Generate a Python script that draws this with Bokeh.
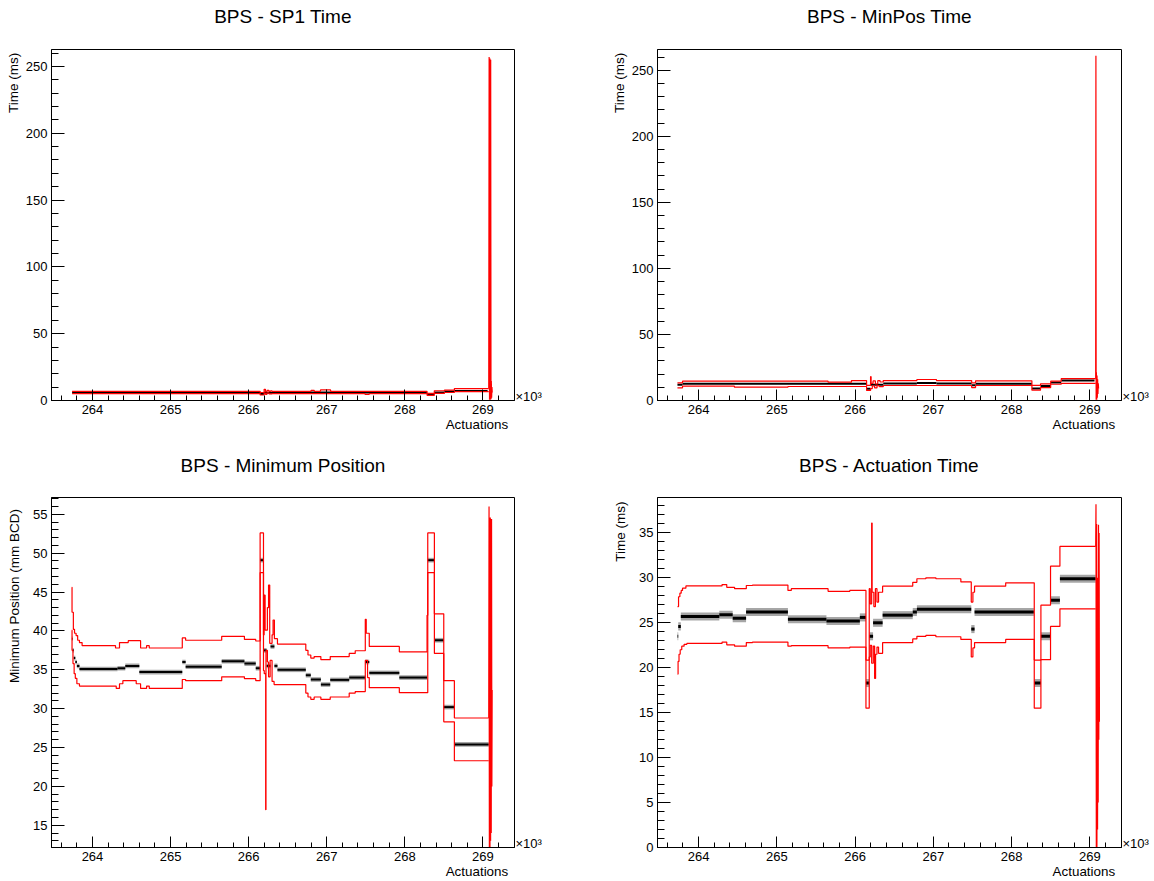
import json
from bokeh.plotting import figure
from bokeh.models import (Range1d, SingleIntervalTicker, FixedTicker, LinearAxis,
                          CustomJSTickFormatter)
from bokeh.layouts import gridplot
from bokeh.embed import file_html
from bokeh.resources import INLINE

FONT = "Liberation Sans"

# x values are actuations in units of 10^3
X_RANGE = (263.475, 269.405)

# ---------------- BPS - SP1 Time ----------------
sp1_up_x = [263.739, 266.147, 266.198, 266.215, 266.235, 266.260, 266.280, 266.300, 266.800, 266.840, 266.920, 267.050, 268.285, 268.378, 268.507, 268.635, 269.075]
sp1_up_y = [6.9, 6.0, 8.4, 6.6, 7.6, 6.8, 7.2, 6.9, 7.6, 6.9, 7.9, 6.9, 5.4, 7.3, 7.7, 8.9, 8.9]
sp1_lo_x = [263.739, 266.147, 266.198, 266.215, 266.235, 266.260, 266.300, 267.490, 267.545, 268.285, 268.378, 268.507, 268.635, 269.075]
sp1_lo_y = [5.2, 4.1, 5.6, 4.6, 5.8, 5.0, 5.2, 4.6, 5.2, 3.9, 5.3, 6.0, 6.6, 6.6]
sp1_pt_x0 = [263.739, 266.147, 266.198, 266.350, 268.285, 268.378, 268.507, 268.635]
sp1_pt_x1 = [266.147, 266.198, 266.350, 268.285, 268.378, 268.507, 268.635, 269.060]
sp1_pt_y = [6.0, 4.8, 5.8, 6.0, 4.6, 5.9, 6.7, 7.2]
sp1_spk_x = [269.075, 269.080, 269.085, 269.090, 269.095, 269.100, 269.104, 269.108, 269.112, 269.116, 269.120]
sp1_spk_y = [8.9, 257.0, 0.5, 256.0, 0.5, 255.0, 1.0, 14.6, 2.0, 10.0, 6.0]

# ---------------- BPS - MinPos Time ----------------
mp_up_x = [263.730, 263.795, 265.655, 265.954, 266.147, 266.198, 266.205, 266.230, 266.260, 266.290, 266.320, 266.360, 266.790, 267.040, 267.490, 267.540, 268.260, 268.370, 268.500, 268.635, 269.075]
mp_up_y = [13.3, 14.6, 13.9, 15.1, 11.4, 18.0, 13.0, 14.8, 12.5, 15.0, 14.0, 15.1, 15.9, 15.1, 13.4, 14.9, 11.4, 12.6, 14.6, 16.6, 16.6]
mp_lo_x = [263.730, 263.795, 264.458, 265.142, 266.147, 266.198, 266.220, 266.250, 266.280, 266.310, 266.360, 267.490, 267.540, 268.260, 268.370, 268.500, 268.635, 269.075]
mp_lo_y = [9.6, 10.85, 10.1, 10.6, 7.6, 9.0, 11.0, 9.5, 11.2, 10.5, 11.35, 9.8, 11.35, 7.8, 9.8, 12.3, 13.0, 13.0]
mp_pt_x0 = [263.730, 263.795, 266.147, 266.198, 266.360, 266.790, 267.040, 267.490, 267.540, 268.260, 268.370, 268.500, 268.635]
mp_pt_x1 = [263.795, 266.147, 266.198, 266.360, 266.790, 267.040, 267.490, 267.540, 268.260, 268.370, 268.500, 268.635, 269.060]
mp_pt_y = [12.0, 12.6, 8.8, 12.0, 12.8, 13.2, 12.8, 11.5, 12.6, 9.0, 11.0, 13.6, 15.1]
mp_spk_x = [269.075, 269.078, 269.081, 269.084, 269.088, 269.092, 269.096, 269.100, 269.104, 269.108, 269.112]
mp_spk_y = [16.6, 261.0, 0.5, 21.4, 0.5, 19.0, 2.0, 16.0, 5.0, 13.0, 9.0]

# ---------------- BPS - Minimum Position ----------------
pos_up_x = [263.735, 263.738, 263.755, 263.770, 263.790, 263.810, 263.833, 263.867, 264.295, 264.346, 264.458, 264.616, 264.693, 264.727,
            265.150, 265.193, 265.655, 265.946, 266.091, 266.147, 266.190, 266.198, 266.211, 266.240, 266.255, 266.270, 266.300, 266.313,
            266.330, 266.369, 266.732, 266.760, 266.796, 266.839, 266.925, 267.045, 267.288, 267.365, 267.494, 267.506, 267.545, 267.930,
            268.285, 268.294, 268.379, 268.499, 268.635, 269.075]
pos_up_y = [45.6, 42.4, 40.2, 39.7, 39.4, 38.8, 38.5, 38.1, 37.8, 38.5, 38.75, 37.8, 38.1, 37.8,
            39.1, 38.8, 39.3, 38.9, 38.7, 52.6, 39.5, 44.6, 40.1, 43.0, 45.9, 38.4, 39.5, 41.4,
            39.0, 38.3, 37.5, 36.9, 36.5, 36.7, 36.3, 36.7, 37.1, 37.45, 41.5, 39.7, 38.0, 37.3,
            42.0, 52.6, 42.2, 33.6, 28.8, 28.8]
pos_lo_x = [263.735, 263.738, 263.750, 263.765, 263.780, 263.800, 263.833, 264.304, 264.346, 264.389, 264.560, 264.616, 264.693, 264.727,
            265.150, 265.193, 265.655, 265.946, 266.091, 266.147, 266.190, 266.200, 266.218, 266.222, 266.240, 266.255, 266.275, 266.300,
            266.326, 266.732, 266.760, 266.796, 266.839, 266.925, 267.045, 267.288, 267.365, 267.494, 267.523, 267.545, 267.930,
            268.294, 268.379, 268.499, 268.635, 269.075]
pos_lo_y = [40.1, 37.5, 35.8, 34.5, 33.9, 33.2, 32.9, 32.6, 33.2, 33.6, 33.2, 32.6, 32.9, 32.6,
            33.75, 33.6, 34.1, 33.85, 33.6, 47.5, 34.9, 34.5, 17.0, 37.5, 36.0, 34.1, 36.2, 33.5,
            33.1, 32.0, 31.5, 31.2, 31.5, 31.2, 31.5, 32.0, 32.2, 36.2, 34.0, 32.7, 32.05,
            47.5, 37.1, 28.3, 23.3, 23.3]
pos_pt_x0 = [263.736, 263.745, 263.760, 263.780, 263.800, 263.833, 264.320, 264.420, 264.600, 265.150, 265.193, 265.655, 265.946, 266.091,
             266.147, 266.190, 266.230, 266.280, 266.330, 266.369, 266.732, 266.796, 266.925, 267.045, 267.288, 267.494, 267.545, 267.930,
             268.294, 268.379, 268.499, 268.635]
pos_pt_x1 = [263.745, 263.760, 263.780, 263.800, 263.833, 264.320, 264.420, 264.600, 265.150, 265.193, 265.655, 265.946, 266.091, 266.147,
             266.190, 266.230, 266.280, 266.330, 266.369, 266.732, 266.796, 266.925, 267.045, 267.288, 267.494, 267.545, 267.930, 268.285,
             268.379, 268.499, 268.635, 269.075]
pos_pt_y = [39.0, 37.5, 36.5, 36.0, 35.5, 35.1, 35.2, 35.5, 34.7, 36.0, 35.4, 36.1, 35.8, 35.2,
            49.1, 37.5, 35.5, 38.0, 35.5, 35.0, 34.3, 33.75, 33.1, 33.7, 34.0, 36.0, 34.6, 34.0,
            49.1, 38.8, 30.2, 25.4]
pos_spk_x = [269.075, 269.079, 269.083, 269.087, 269.091, 269.095, 269.099, 269.103, 269.107, 269.111, 269.115, 269.119]
pos_spk_y = [28.8, 56.0, 12.1, 54.6, 12.1, 54.6, 13.0, 54.4, 14.0, 54.4, 20.0, 32.4]

# ---------------- BPS - Actuation Time ----------------
act_up_x = [263.731, 263.744, 263.761, 263.778, 263.795, 263.838, 264.300, 264.360, 264.460, 264.610, 264.690, 265.142, 265.185,
            265.655, 265.933, 266.139, 266.181, 266.194, 266.212, 266.218, 266.240, 266.260, 266.280, 266.300, 266.352, 266.737,
            266.790, 266.905, 267.033, 267.352, 267.485, 267.506, 267.527, 267.925, 268.290, 268.375, 268.498, 268.618, 269.075]
act_up_y = [26.8, 27.9, 28.3, 28.6, 28.85, 29.1, 29.25, 28.95, 28.8, 29.15, 29.2, 28.6, 28.8,
            28.5, 28.6, 20.85, 28.8, 27.1, 36.1, 28.4, 26.8, 28.8, 27.3, 28.4, 29.07, 29.5,
            29.9, 30.0, 29.9, 29.55, 27.3, 28.4, 29.07, 29.45, 20.85, 26.96, 31.3, 33.5, 33.5]
act_lo_x = [263.731, 263.738, 263.750, 263.765, 263.785, 263.815, 263.850, 264.300, 264.360, 264.460, 264.610, 264.690, 265.142,
            265.185, 265.655, 265.933, 266.139, 266.181, 266.194, 266.212, 266.233, 266.250, 266.262, 266.280, 266.300, 266.352,
            266.737, 266.790, 266.905, 267.033, 267.352, 267.485, 267.506, 267.527, 267.925, 268.290, 268.375, 268.498, 268.618, 269.075]
act_lo_y = [19.3, 20.7, 21.5, 22.0, 22.4, 22.6, 22.7, 22.85, 22.55, 22.4, 22.8, 22.85, 22.4,
            22.45, 22.2, 22.3, 15.5, 21.2, 22.5, 20.5, 22.4, 18.8, 21.5, 22.3, 21.6, 22.8,
            23.2, 23.5, 23.6, 23.45, 23.15, 21.2, 22.2, 22.8, 23.15, 15.5, 20.9, 24.6, 26.55, 26.55]
act_pt_x0 = [263.731, 263.740, 263.773, 264.265, 264.436, 264.607, 265.142, 265.634, 266.061, 266.139, 266.181, 266.230, 266.352,
             266.737, 266.790, 267.485, 267.527, 268.290, 268.375, 268.498, 268.618]
act_pt_x1 = [263.740, 263.773, 264.265, 264.436, 264.607, 265.142, 265.634, 266.061, 266.139, 266.181, 266.230, 266.352, 266.737,
             266.790, 267.485, 267.527, 268.285, 268.375, 268.498, 268.618, 269.075]
act_pt_y = [23.5, 24.6, 25.7, 25.9, 25.5, 26.2, 25.4, 25.2, 25.6, 18.3, 23.5, 25.0, 25.85,
            26.2, 26.5, 24.3, 26.2, 18.3, 23.5, 27.5, 29.9]
act_spk_x = [269.075, 269.079, 269.083, 269.087, 269.091, 269.095, 269.099, 269.103, 269.107, 269.111, 269.115, 269.119, 269.123]
act_spk_y = [33.5, 38.2, 0.0, 36.0, 0.0, 30.0, 2.0, 28.0, 5.0, 35.9, 12.0, 35.0, 14.0]

# texts
titles = ["BPS - SP1 Time", "BPS - MinPos Time", "BPS - Minimum Position", "BPS - Actuation Time"]
y_titles = ["Time (ms)", "Time (ms)", "Minimum Position (mm BCD)", "Time (ms)"]
x_title = "Actuations"
x_mult = "\u00d710\u00b3"


def text_axis(p, side, tick, text, size, standoff, orientation="horizontal"):
    ax = LinearAxis(ticker=FixedTicker(ticks=[tick]),
                    formatter=CustomJSTickFormatter(code="return %s;" % json.dumps(text)))
    ax.axis_line_color = None
    ax.major_tick_line_color = None
    ax.minor_tick_line_color = None
    ax.major_tick_in = 0
    ax.major_tick_out = 0
    ax.minor_tick_in = 0
    ax.minor_tick_out = 0
    ax.major_label_standoff = standoff
    ax.major_label_text_font = FONT
    ax.major_label_text_font_size = size
    ax.major_label_text_color = "black"
    ax.major_label_orientation = orientation
    p.add_layout(ax, side)


def panel(w, h, bl, br, bt, bb, yr, ytick, title, ylabel, ylab_tick, ylab_so, title_so, mult_tick,
          up, lo, pts, spk, spread, core_w):
    p = figure(width=w, height=h, min_border_left=bl, min_border_right=br,
               min_border_top=bt, min_border_bottom=bb,
               x_range=Range1d(*X_RANGE), y_range=Range1d(*yr),
               output_backend="svg", toolbar_location=None, tools="")
    p.background_fill_color = "white"
    p.border_fill_color = "white"
    p.grid.visible = False
    p.outline_line_color = "black"
    p.outline_line_width = 1
    xa = p.below[0]
    ya = p.left[0]
    xa.ticker = SingleIntervalTicker(interval=1, num_minor_ticks=5)
    ya.ticker = SingleIntervalTicker(interval=ytick, num_minor_ticks=5)
    for ax, maj, mn in ((xa, 11, 5), (ya, 13, 7)):
        ax.major_tick_in = maj
        ax.major_tick_out = 0
        ax.minor_tick_in = mn
        ax.minor_tick_out = 0
        ax.axis_line_color = "black"
        ax.major_tick_line_color = "black"
        ax.minor_tick_line_color = "black"
        ax.major_label_text_font = FONT
        ax.major_label_text_font_size = "13px"
        ax.major_label_text_color = "black"
    xa.major_label_standoff = 4
    ya.major_label_standoff = 4

    x0, x1, yv = pts
    if spread > 0:
        p.quad(left=x0, right=x1, bottom=[v - spread for v in yv], top=[v + spread for v in yv],
               fill_color="black", fill_alpha=0.35, line_alpha=0)
    p.segment(x0=x0, y0=yv, x1=x1, y1=yv, line_color="black", line_width=core_w)

    p.step(up[0], up[1], mode="after", line_color="#ff0000", line_width=1.2)
    p.step(lo[0], lo[1], mode="after", line_color="#ff0000", line_width=1.2)
    p.line(spk[0], spk[1], line_color="#ff0000", line_width=1.2)

    xc = (X_RANGE[0] + X_RANGE[1]) / 2
    text_axis(p, "above", xc, title, "19px", title_so)
    text_axis(p, "left", ylab_tick, ylabel, "13.5px", ylab_so, "parallel")
    text_axis(p, "below", 268.924, x_title, "13.4px", 0)
    text_axis(p, "right", mult_tick, x_mult, "13px", 1)
    return p


p1 = panel(577, 440, 51, 63, 49, 40, (0, 262.7), 50, titles[0], y_titles[0], 237.7, 1, 23, 3.0,
           (sp1_up_x, sp1_up_y), (sp1_lo_x, sp1_lo_y), (sp1_pt_x0, sp1_pt_x1, sp1_pt_y), (sp1_spk_x, sp1_spk_y), 0, 2)
p2 = panel(577, 440, 80, 33, 49, 40, (0, 265.7), 50, titles[1], y_titles[1], 240.5, 1, 23, 3.0,
           (mp_up_x, mp_up_y), (mp_lo_x, mp_lo_y), (mp_pt_x0, mp_pt_x1, mp_pt_y), (mp_spk_x, mp_spk_y), 0, 2)
p3 = panel(577, 441, 51, 63, 57, 33, (12.14, 57.16), 5, titles[2], y_titles[2], 44.5, 8, 22, 12.65,
           (pos_up_x, pos_up_y), (pos_lo_x, pos_lo_y), (pos_pt_x0, pos_pt_x1, pos_pt_y), (pos_spk_x, pos_spk_y), 0.3, 2)
p4 = panel(577, 441, 80, 33, 57, 33, (0, 38.94), 5, titles[3], y_titles[3], 35.14, 8, 22, 0.44,
           (act_up_x, act_up_y), (act_lo_x, act_lo_y), (act_pt_x0, act_pt_x1, act_pt_y), (act_spk_x, act_spk_y), 0.45, 3)

grid = gridplot([[p1, p2], [p3, p4]], toolbar_location=None)
open("out.html", "w").write(file_html(grid, INLINE))
